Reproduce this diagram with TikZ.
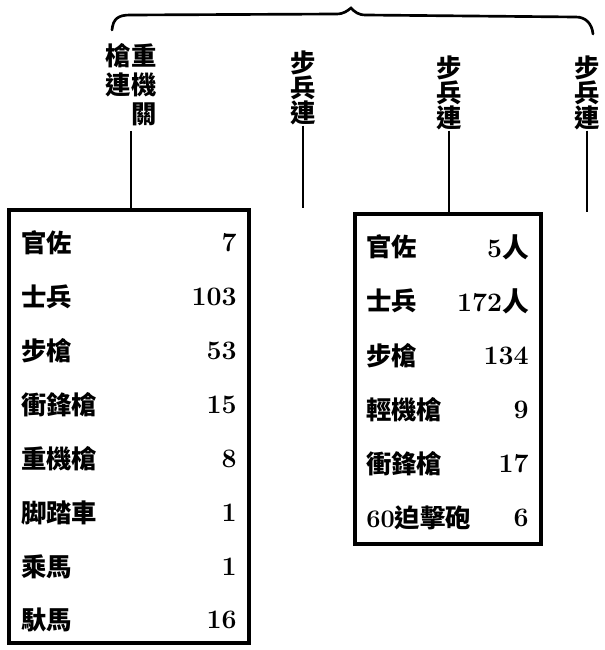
\documentclass[tikz,border=0pt]{standalone}
\usepackage{fontspec}
\newfontfamily\cjk{Noto Sans CJK TC}
\usepackage{tikz}
\tikzset{
  tbl/.style={draw, line width=2.6pt, inner sep=0pt},
  item/.style={anchor=west, inner sep=0pt, font=\cjk\bfseries\fontsize{19}{19}\selectfont},
  amount/.style={anchor=east, inner sep=0pt, font=\rmfamily\bfseries\fontsize{20}{20}\selectfont},
  unit/.style={align=center, inner sep=0pt, font=\cjk\bfseries\fontsize{19}{19}\selectfont},
  link/.style={line width=2pt},
  bracket/.style={line width=2pt, line cap=round}
}
\begin{document}
\begin{tikzpicture}[x=0.75pt,y=-0.75pt]
  \useasboundingbox (0,0) rectangle (604,650);
  % brace over the four companies
  \draw[bracket] (112,30) .. controls (113,19) and (118,15) .. (130,15) -- (336,14)
    .. controls (344,14) and (347,11) .. (351,8) .. controls (355,12) and (358,15) .. (366,15)
    -- (576,17) .. controls (586,17) and (592,24) .. (593,34);
  % companies
  \node[unit] (hmg) at (131,87) {\begin{tabular}{@{}c@{}c@{}}槍&重\\連&機\\&關\end{tabular}};
  \node[unit] (infA) at (303,88) {步\\兵\\連};
  \node[unit] (infB) at (449,93) {步\\兵\\連};
  \node[unit] (infC) at (587,93) {步\\兵\\連};
  % tables
  \node[tbl, minimum width=180pt, minimum height=324.75pt] (tabA) at (129,426.5) {};
  \node[tbl, minimum width=139.5pt, minimum height=247.5pt] (tabB) at (448,379) {};
  \foreach \what/\qty [count=\i from 0] in {官佐/7, 士兵/103, 步槍/53, 衝鋒槍/15, 重機槍/8, 脚踏車/1, 乘馬/1, 馱馬/16}{
    \node[item] (a\i) at (21,{243+53.9*\i}) {\what};
    \node[amount] (n\i) at (237,{243+53.9*\i}) {\qty};
  }
  \foreach \what/\qty [count=\i from 0] in {官佐/5{\cjk 人}, 士兵/172{\cjk 人}, 步槍/134, 輕機槍/9, 衝鋒槍/17, {\rmfamily 60}迫擊砲/6}{
    \node[item] (b\i) at (366,{247+54.2*\i}) {\what};
    \node[amount] (m\i) at (529,{247+54.2*\i}) {\qty};
  }
  % connectors
  \coordinate (endA) at (302,208);
  \coordinate (endC) at (587,212);
  \draw[link] (hmg.south) -- (hmg.south |- tabA.north);
  \draw[link] (infA.south) -- (infA.south |- endA);
  \draw[link] (infB.south) -- (infB.south |- tabB.north);
  \draw[link] (infC.south) -- (infC.south |- endC);
\end{tikzpicture}
\end{document}
